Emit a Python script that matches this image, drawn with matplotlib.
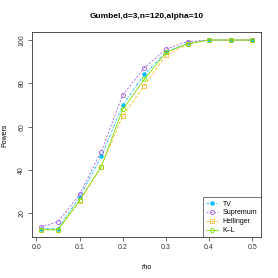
import numpy as np
import matplotlib
matplotlib.use("Agg")
import matplotlib.pyplot as plt

rho = [0.01, 0.05, 0.10, 0.15, 0.20, 0.25, 0.30, 0.35, 0.40, 0.45, 0.50]
tv = [13.0, 13.0, 27.5, 46.3, 70.0, 84.1, 94.5, 98.5, 100, 100, 100]
supremum = [13.6, 16.1, 28.8, 48.5, 74.6, 87.2, 95.8, 99.3, 100, 100, 100]
hellinger = [12.5, 12.5, 25.5, 41.5, 65.0, 79.0, 93.0, 98.0, 100, 100, 100]
kl = [12.5, 12.3, 26.0, 41.5, 68.0, 81.8, 94.3, 98.3, 100, 100, 100]

plt.rcParams['font.family'] = ['Liberation Sans', 'DejaVu Sans']

fig = plt.figure(figsize=(2.78, 2.78), dpi=100)
ax = fig.add_axes([0.116, 0.146, 0.822, 0.738])

lw = 0.6
ax.plot(rho, tv, color='#00BFFF', linestyle=(0, (3, 1.5, 1, 1.5)), lw=lw,
        marker='o', ms=2.2, label='TV')
ax.plot(rho, supremum, color='#A45EE8', linestyle=(0, (2.5, 2)), lw=lw,
        marker='o', ms=3, mfc='none', mew=0.6, label='Supremum')
ax.plot(rho, hellinger, color='#FFB833', linestyle=(0, (4, 2)), lw=lw,
        marker='s', ms=3, mfc='none', mew=0.6, label='Hellinger')
ax.plot(rho, kl, color='#7CE000', linestyle='-', lw=lw,
        marker='o', ms=3, mfc='none', mew=0.6, label='K\u2013L')

ax.set_xlim(-0.0096, 0.5196)
ax.set_ylim(8.9, 103.6)
ax.set_xticks([0.0, 0.1, 0.2, 0.3, 0.4, 0.5])
ax.set_yticks([20, 40, 60, 80, 100])
ax.tick_params(axis='both', labelsize=5, length=3, width=0.5, colors='#333333',
               pad=2)
for lab in ax.get_yticklabels():
    lab.set_rotation(90)
    lab.set_va('center')
for s in ax.spines.values():
    s.set_linewidth(0.6)
    s.set_color('#333333')

ax.set_title('Gumbel,d=3,n=120,alpha=10', fontsize=6, fontweight='bold',
             pad=10)
ax.set_xlabel('rho', fontsize=5, labelpad=9)
ax.set_ylabel('Powers', fontsize=5, labelpad=7.5)

leg = ax.legend(loc='lower right', fontsize=5, frameon=True, fancybox=False,
                borderaxespad=0, handlelength=1.7, handletextpad=0.7,
                labelspacing=0.25, borderpad=0.5)
leg.get_frame().set_edgecolor('#333333')
leg.get_frame().set_linewidth(0.6)

fig.savefig('out.png', dpi=100)
